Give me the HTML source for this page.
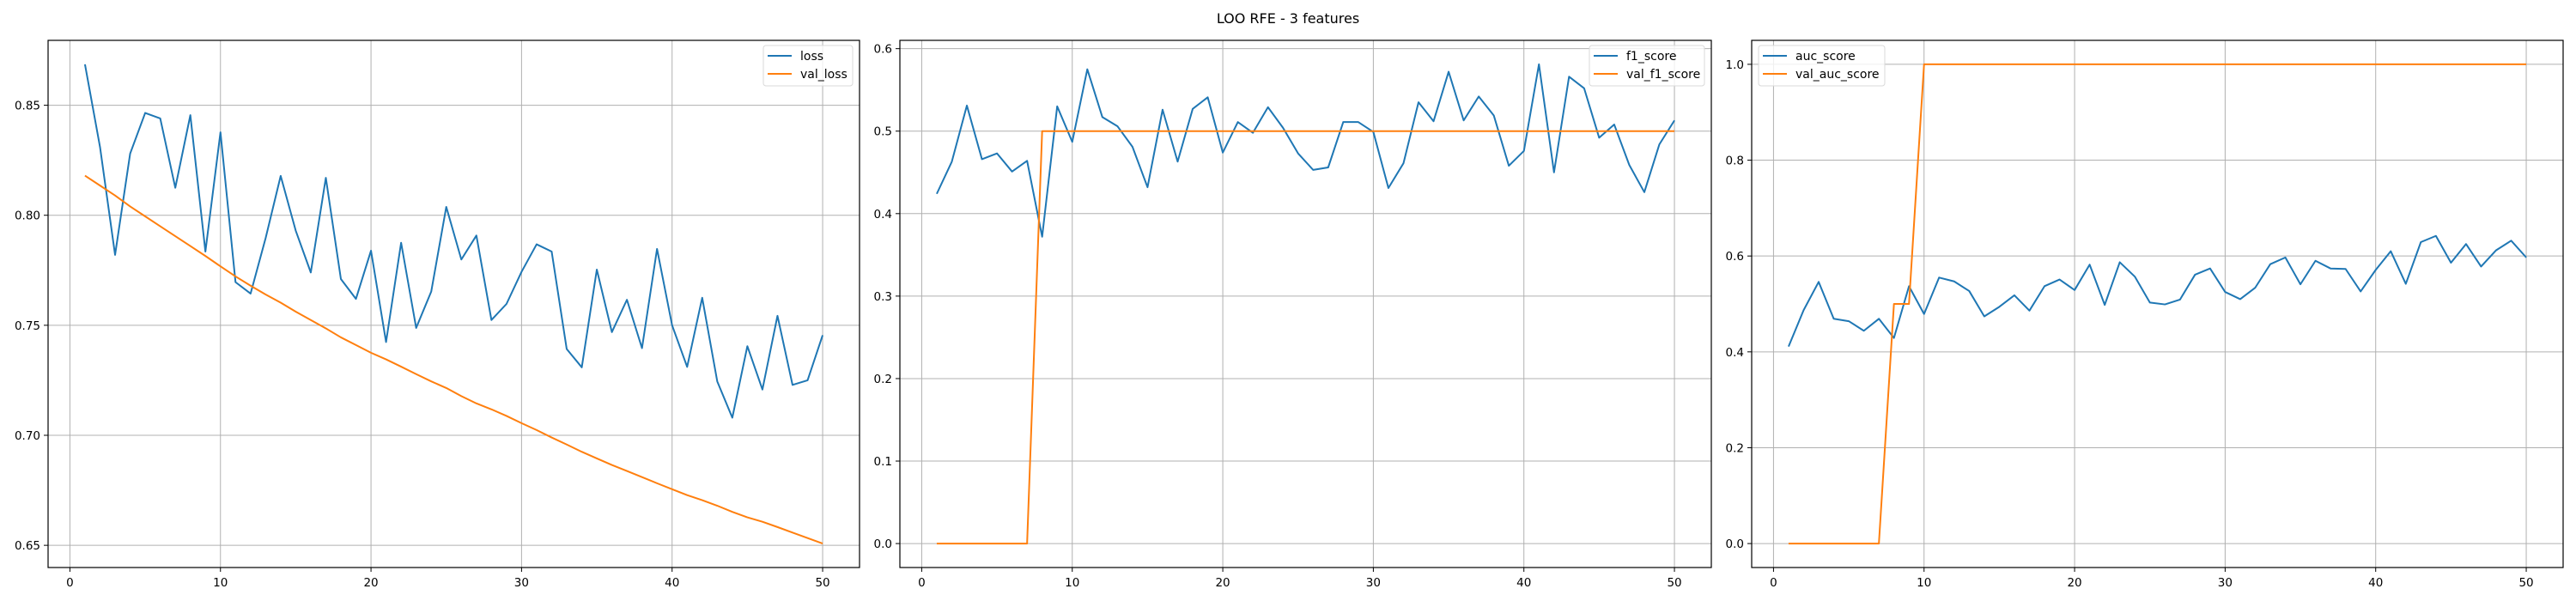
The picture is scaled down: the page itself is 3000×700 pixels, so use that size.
<!DOCTYPE html>
<html><head><meta charset="utf-8"><style>
html,body{margin:0;padding:0;background:#fff;}
svg{display:block;font-family:"DejaVu Sans","Liberation Sans",sans-serif;}
</style></head><body>
<svg id="fig" width="3000" height="700" viewBox="0 0 3000 700" xmlns="http://www.w3.org/2000/svg">
<rect width="3000" height="700" fill="#fff"/>
<text x="1500" y="27" text-anchor="middle" font-size="16" fill="#000">LOO RFE - 3 features</text>
</svg>
<script>
const epochs = Array.from({length:50},(_,i)=>i+1);
const loss = [0.8686,0.831,0.782,0.828,0.8465,0.844,0.8125,0.8455,0.7835,0.8377,0.7696,0.7644,0.7896,0.8179,0.793,0.774,0.817,0.771,0.762,0.7839,0.7424,0.7875,0.7488,0.7653,0.8038,0.7799,0.7908,0.7524,0.7597,0.7743,0.7868,0.7835,0.7392,0.7309,0.7753,0.7469,0.7616,0.7396,0.7847,0.75,0.7311,0.7625,0.7245,0.708,0.7405,0.7208,0.7543,0.7229,0.725,0.7455];
const valLoss = [0.818,0.8135,0.809,0.804,0.7995,0.795,0.7905,0.786,0.7815,0.7768,0.7722,0.768,0.764,0.7603,0.7562,0.7524,0.7486,0.7445,0.741,0.7375,0.7345,0.7312,0.7278,0.7245,0.7215,0.7178,0.7145,0.7118,0.7088,0.7055,0.7024,0.699,0.6958,0.6925,0.6895,0.6865,0.6838,0.681,0.6782,0.6755,0.6728,0.6705,0.668,0.6652,0.6627,0.6607,0.6583,0.6558,0.6533,0.6508];
const f1 = [0.424,0.463,0.531,0.466,0.473,0.451,0.464,0.372,0.530,0.487,0.575,0.517,0.506,0.481,0.432,0.526,0.463,0.527,0.541,0.474,0.511,0.498,0.529,0.504,0.473,0.453,0.456,0.511,0.511,0.499,0.431,0.461,0.535,0.512,0.572,0.513,0.542,0.519,0.458,0.476,0.581,0.450,0.566,0.552,0.492,0.508,0.459,0.426,0.484,0.513];
const valF1 = [0,0,0,0,0,0,0,0.5,0.5,0.5,0.5,0.5,0.5,0.5,0.5,0.5,0.5,0.5,0.5,0.5,0.5,0.5,0.5,0.5,0.5,0.5,0.5,0.5,0.5,0.5,0.5,0.5,0.5,0.5,0.5,0.5,0.5,0.5,0.5,0.5,0.5,0.5,0.5,0.5,0.5,0.5,0.5,0.5,0.5,0.5];
const auc = [0.411,0.487,0.546,0.469,0.464,0.444,0.469,0.429,0.537,0.479,0.555,0.547,0.527,0.474,0.494,0.518,0.486,0.537,0.551,0.529,0.582,0.498,0.587,0.557,0.503,0.499,0.509,0.561,0.574,0.525,0.510,0.534,0.583,0.597,0.541,0.590,0.574,0.573,0.526,0.571,0.610,0.542,0.629,0.642,0.586,0.625,0.578,0.612,0.632,0.597];
const valAuc = [0,0,0,0,0,0,0,0.5,0.5,1,1,1,1,1,1,1,1,1,1,1,1,1,1,1,1,1,1,1,1,1,1,1,1,1,1,1,1,1,1,1,1,1,1,1,1,1,1,1,1,1];
const xTicks = [0,10,20,30,40,50];
const yTicksLoss = [0.65,0.70,0.75,0.80,0.85];
const yTicksF1 = [0.0,0.1,0.2,0.3,0.4,0.5,0.6];
const yTicksAuc = [0.0,0.2,0.4,0.6,0.8,1.0];
const namesLoss = ["loss","val_loss"];
const namesF1 = ["f1_score","val_f1_score"];
const namesAuc = ["auc_score","val_auc_score"];

const NS="http://www.w3.org/2000/svg";
const svg=document.getElementById('fig');
function mk(tag,attrs,parent){const e=document.createElementNS(NS,tag);for(const k in attrs)e.setAttribute(k,attrs[k]);(parent||svg).appendChild(e);return e;}

function panel(key,left,series,yTicks,dec,names,legendLeft,lw){
  const top=47,bottom=661,right=left+945;
  const g=mk('g',{});
  
  
  let mn=Infinity,mx=-Infinity;
  series.forEach(s=>s.forEach(v=>{mn=Math.min(mn,v);mx=Math.max(mx,v);}));
  const pad=(mx-mn)*0.05, y0=mn-pad, y1=mx+pad;
  const x0=1-49*0.05, x1=50+49*0.05;
  const X=v=>left+(v-x0)/(x1-x0)*(right-left);
  const Y=v=>bottom-(v-y0)/(y1-y0)*(bottom-top);
  xTicks.forEach(t=>{
    const x=X(t);
    const gl=mk('line',{x1:x,x2:x,y1:top,y2:bottom,stroke:'#b0b0b0','stroke-width':1},g);
    
    
    mk('line',{x1:x,x2:x,y1:bottom,y2:bottom+5,stroke:'#000','stroke-width':1},g);
    const tx=mk('text',{x:x,y:bottom+22,'text-anchor':'middle','font-size':13.5,fill:'#000'},g);
    tx.textContent=t;
    
    
  });
  yTicks.forEach(t=>{
    const y=Y(t);
    const gl=mk('line',{x1:left,x2:right,y1:y,y2:y,stroke:'#b0b0b0','stroke-width':1},g);
    
    
    mk('line',{x1:left-5,x2:left,y1:y,y2:y,stroke:'#000','stroke-width':1},g);
    const tx=mk('text',{x:left-9,y:y+5,'text-anchor':'end','font-size':13.5,fill:'#000'},g);
    tx.textContent=t.toFixed(dec);
    
    
  });
  const colors=['#1f77b4','#ff7f0e'];
  series.forEach((s,i)=>{
    const p=mk('polyline',{points:s.map((v,j)=>X(epochs[j]).toFixed(2)+','+Y(v).toFixed(2)).join(' '),fill:'none',stroke:colors[i],'stroke-width':2,'stroke-linejoin':'round'},g);
    
    
  });
  mk('rect',{x:left,y:top,width:right-left,height:bottom-top,fill:'none',stroke:'#000','stroke-width':1.2},g);
  const lx=legendLeft?left+8:right-8-lw;
  const lg=mk('g',{},g);
  
  
  mk('rect',{x:lx,y:53,width:lw,height:47,rx:3,fill:'#fff','fill-opacity':0.8,stroke:'#d9d9d9','stroke-width':1},lg);
  names.forEach((n,i)=>{
    const yy=65+i*21;
    mk('line',{x1:lx+5,x2:lx+33,y1:yy,y2:yy,stroke:colors[i],'stroke-width':2},lg);
    const tx=mk('text',{x:lx+43,y:yy+5,'font-size':14,fill:'#000'},lg);
    tx.textContent=n;
    
    
  });
}
panel('loss',56,[loss,valLoss],yTicksLoss,2,namesLoss,false,104);
panel('f1',1048,[f1,valF1],yTicksF1,1,namesF1,false,134);
panel('auc',2040,[auc,valAuc],yTicksAuc,1,namesAuc,true,147);
</script>
</body></html>
